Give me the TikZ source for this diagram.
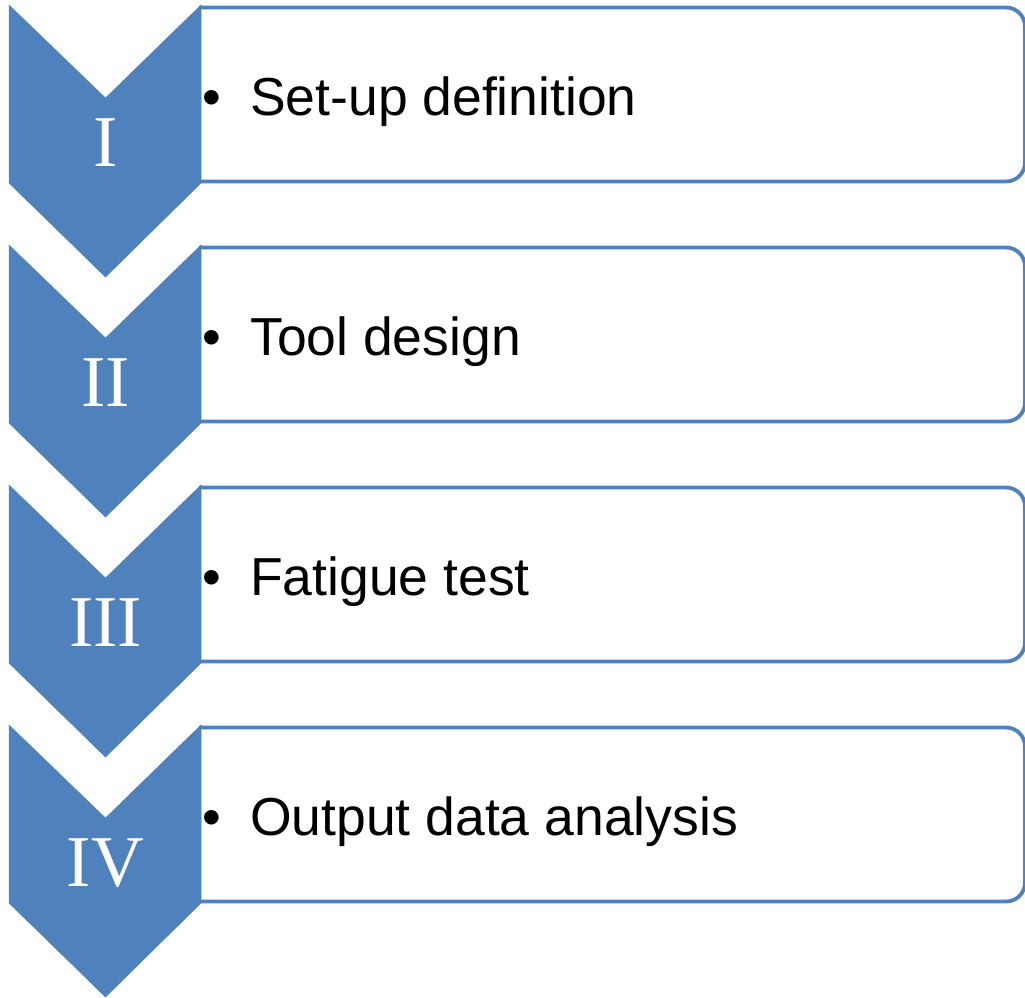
\documentclass[tikz,border=0pt]{standalone}
\usepackage{fontspec}
\setmainfont{Liberation Sans}
\newfontfamily\numfont{Liberation Serif}
\definecolor{accentblue}{HTML}{4F81BD}
\begin{document}
\begin{tikzpicture}[x=1pt,y=-1pt,
  chevron/.style={fill=accentblue,draw=accentblue,line width=0.5pt},
  listbox/.style={draw=accentblue,fill=white,line width=3.8pt,rounded corners=19pt},
  numeral/.style={anchor=base,inner sep=0pt,text=white,font=\numfont\fontsize{73}{80}\selectfont},
  bullettext/.style={anchor=base west,inner sep=0pt,text=black,font=\fontsize{53.5}{64}\selectfont}]
\useasboundingbox (0,0) rectangle (1025,997);
\foreach \t/\num/\lab/\nm in {5/I/Set-up definition/a,245/II/Tool design/b,485/III/Fatigue test/c,725/IV/Output data analysis/d}{
  % box (open path: left corners stay sharp, hidden by the chevron)
  \draw[listbox] (199,\t+2.5) -- (1025,\t+2.5) -- (1025,\t+176.5) -- (199,\t+176.5);
  % chevron
  \path[chevron] (9,\t) -- (105.5,\t+93) -- (201,\t) -- (201,\t+178) -- (105.5,\t+272) -- (9,\t+178) -- cycle;
  \node[numeral] (num\nm) at (105.5,\t+161) {\num};
  \node[bullettext] (bul\nm) at (202.5,\t+110) {•};
  \node[bullettext] (txt\nm) at (250,\t+110) {\lab};
}
\end{tikzpicture}
\end{document}
